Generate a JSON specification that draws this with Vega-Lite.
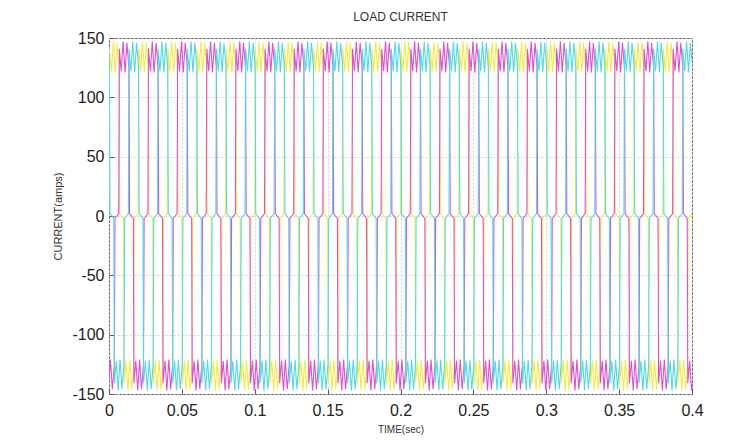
{
"$schema": "https://vega.github.io/schema/vega-lite/v6.json",
"width": 583,
"height": 356,
"autosize": "none",
"padding": {"left": 109, "top": 38, "right": 60, "bottom": 50},
"background": "white",
"title": {"text": "LOAD CURRENT", "font": "Liberation Sans", "fontSize": 12, "fontWeight": "normal", "color": "#333", "offset": 6},
"datasets": {
"a": [
{"t":0,"i":2},{"t":0.0004,"i":141},{"t":0.0017,"i":122},{"t":0.003,"i":147},{"t":0.0043,"i":121},{"t":0.0056,"i":146},{"t":0.007,"i":125},{"t":0.0074,"i":2},{"t":0.01,"i":-2},{"t":0.0104,"i":-141},{"t":0.0117,"i":-122},{"t":0.013,"i":-147},{"t":0.0143,"i":-121},{"t":0.0156,"i":-146},{"t":0.017,"i":-125},{"t":0.0174,"i":-2},
{"t":0.02,"i":2},{"t":0.0204,"i":141},{"t":0.0217,"i":122},{"t":0.023,"i":147},{"t":0.0243,"i":121},{"t":0.0256,"i":146},{"t":0.027,"i":125},{"t":0.0274,"i":2},{"t":0.03,"i":-2},{"t":0.0304,"i":-141},{"t":0.0317,"i":-122},{"t":0.033,"i":-147},{"t":0.0343,"i":-121},{"t":0.0356,"i":-146},{"t":0.037,"i":-125},{"t":0.0374,"i":-2},
{"t":0.04,"i":2},{"t":0.0404,"i":141},{"t":0.0417,"i":122},{"t":0.043,"i":147},{"t":0.0443,"i":121},{"t":0.0456,"i":146},{"t":0.047,"i":125},{"t":0.0474,"i":2},{"t":0.05,"i":-2},{"t":0.0504,"i":-141},{"t":0.0517,"i":-122},{"t":0.053,"i":-147},{"t":0.0543,"i":-121},{"t":0.0556,"i":-146},{"t":0.057,"i":-125},{"t":0.0574,"i":-2},
{"t":0.06,"i":2},{"t":0.0604,"i":141},{"t":0.0617,"i":122},{"t":0.063,"i":147},{"t":0.0643,"i":121},{"t":0.0656,"i":146},{"t":0.067,"i":125},{"t":0.0674,"i":2},{"t":0.07,"i":-2},{"t":0.0704,"i":-141},{"t":0.0717,"i":-122},{"t":0.073,"i":-147},{"t":0.0743,"i":-121},{"t":0.0756,"i":-146},{"t":0.077,"i":-125},{"t":0.0774,"i":-2},
{"t":0.08,"i":2},{"t":0.0804,"i":141},{"t":0.0817,"i":122},{"t":0.083,"i":147},{"t":0.0843,"i":121},{"t":0.0856,"i":146},{"t":0.087,"i":125},{"t":0.0874,"i":2},{"t":0.09,"i":-2},{"t":0.0904,"i":-141},{"t":0.0917,"i":-122},{"t":0.093,"i":-147},{"t":0.0943,"i":-121},{"t":0.0956,"i":-146},{"t":0.097,"i":-125},{"t":0.0974,"i":-2},
{"t":0.1,"i":2},{"t":0.1004,"i":141},{"t":0.1017,"i":122},{"t":0.103,"i":147},{"t":0.1043,"i":121},{"t":0.1056,"i":146},{"t":0.107,"i":125},{"t":0.1074,"i":2},{"t":0.11,"i":-2},{"t":0.1104,"i":-141},{"t":0.1117,"i":-122},{"t":0.113,"i":-147},{"t":0.1143,"i":-121},{"t":0.1156,"i":-146},{"t":0.117,"i":-125},{"t":0.1174,"i":-2},
{"t":0.12,"i":2},{"t":0.1204,"i":141},{"t":0.1217,"i":122},{"t":0.123,"i":147},{"t":0.1243,"i":121},{"t":0.1256,"i":146},{"t":0.127,"i":125},{"t":0.1274,"i":2},{"t":0.13,"i":-2},{"t":0.1304,"i":-141},{"t":0.1317,"i":-122},{"t":0.133,"i":-147},{"t":0.1343,"i":-121},{"t":0.1356,"i":-146},{"t":0.137,"i":-125},{"t":0.1374,"i":-2},
{"t":0.14,"i":2},{"t":0.1404,"i":141},{"t":0.1417,"i":122},{"t":0.143,"i":147},{"t":0.1443,"i":121},{"t":0.1456,"i":146},{"t":0.147,"i":125},{"t":0.1474,"i":2},{"t":0.15,"i":-2},{"t":0.1504,"i":-141},{"t":0.1517,"i":-122},{"t":0.153,"i":-147},{"t":0.1543,"i":-121},{"t":0.1556,"i":-146},{"t":0.157,"i":-125},{"t":0.1574,"i":-2},
{"t":0.16,"i":2},{"t":0.1604,"i":141},{"t":0.1617,"i":122},{"t":0.163,"i":147},{"t":0.1643,"i":121},{"t":0.1656,"i":146},{"t":0.167,"i":125},{"t":0.1674,"i":2},{"t":0.17,"i":-2},{"t":0.1704,"i":-141},{"t":0.1717,"i":-122},{"t":0.173,"i":-147},{"t":0.1743,"i":-121},{"t":0.1756,"i":-146},{"t":0.177,"i":-125},{"t":0.1774,"i":-2},
{"t":0.18,"i":2},{"t":0.1804,"i":141},{"t":0.1817,"i":122},{"t":0.183,"i":147},{"t":0.1843,"i":121},{"t":0.1856,"i":146},{"t":0.187,"i":125},{"t":0.1874,"i":2},{"t":0.19,"i":-2},{"t":0.1904,"i":-141},{"t":0.1917,"i":-122},{"t":0.193,"i":-147},{"t":0.1943,"i":-121},{"t":0.1956,"i":-146},{"t":0.197,"i":-125},{"t":0.1974,"i":-2},
{"t":0.2,"i":2},{"t":0.2004,"i":141},{"t":0.2017,"i":122},{"t":0.203,"i":147},{"t":0.2043,"i":121},{"t":0.2056,"i":146},{"t":0.207,"i":125},{"t":0.2074,"i":2},{"t":0.21,"i":-2},{"t":0.2104,"i":-141},{"t":0.2117,"i":-122},{"t":0.213,"i":-147},{"t":0.2143,"i":-121},{"t":0.2156,"i":-146},{"t":0.217,"i":-125},{"t":0.2174,"i":-2},
{"t":0.22,"i":2},{"t":0.2204,"i":141},{"t":0.2217,"i":122},{"t":0.223,"i":147},{"t":0.2243,"i":121},{"t":0.2256,"i":146},{"t":0.227,"i":125},{"t":0.2274,"i":2},{"t":0.23,"i":-2},{"t":0.2304,"i":-141},{"t":0.2317,"i":-122},{"t":0.233,"i":-147},{"t":0.2343,"i":-121},{"t":0.2356,"i":-146},{"t":0.237,"i":-125},{"t":0.2374,"i":-2},
{"t":0.24,"i":2},{"t":0.2404,"i":141},{"t":0.2417,"i":122},{"t":0.243,"i":147},{"t":0.2443,"i":121},{"t":0.2456,"i":146},{"t":0.247,"i":125},{"t":0.2474,"i":2},{"t":0.25,"i":-2},{"t":0.2504,"i":-141},{"t":0.2517,"i":-122},{"t":0.253,"i":-147},{"t":0.2543,"i":-121},{"t":0.2556,"i":-146},{"t":0.257,"i":-125},{"t":0.2574,"i":-2},
{"t":0.26,"i":2},{"t":0.2604,"i":141},{"t":0.2617,"i":122},{"t":0.263,"i":147},{"t":0.2643,"i":121},{"t":0.2656,"i":146},{"t":0.267,"i":125},{"t":0.2674,"i":2},{"t":0.27,"i":-2},{"t":0.2704,"i":-141},{"t":0.2717,"i":-122},{"t":0.273,"i":-147},{"t":0.2743,"i":-121},{"t":0.2756,"i":-146},{"t":0.277,"i":-125},{"t":0.2774,"i":-2},
{"t":0.28,"i":2},{"t":0.2804,"i":141},{"t":0.2817,"i":122},{"t":0.283,"i":147},{"t":0.2843,"i":121},{"t":0.2856,"i":146},{"t":0.287,"i":125},{"t":0.2874,"i":2},{"t":0.29,"i":-2},{"t":0.2904,"i":-141},{"t":0.2917,"i":-122},{"t":0.293,"i":-147},{"t":0.2943,"i":-121},{"t":0.2956,"i":-146},{"t":0.297,"i":-125},{"t":0.2974,"i":-2},
{"t":0.3,"i":2},{"t":0.3004,"i":141},{"t":0.3017,"i":122},{"t":0.303,"i":147},{"t":0.3043,"i":121},{"t":0.3056,"i":146},{"t":0.307,"i":125},{"t":0.3074,"i":2},{"t":0.31,"i":-2},{"t":0.3104,"i":-141},{"t":0.3117,"i":-122},{"t":0.313,"i":-147},{"t":0.3143,"i":-121},{"t":0.3156,"i":-146},{"t":0.317,"i":-125},{"t":0.3174,"i":-2},
{"t":0.32,"i":2},{"t":0.3204,"i":141},{"t":0.3217,"i":122},{"t":0.323,"i":147},{"t":0.3243,"i":121},{"t":0.3256,"i":146},{"t":0.327,"i":125},{"t":0.3274,"i":2},{"t":0.33,"i":-2},{"t":0.3304,"i":-141},{"t":0.3317,"i":-122},{"t":0.333,"i":-147},{"t":0.3343,"i":-121},{"t":0.3356,"i":-146},{"t":0.337,"i":-125},{"t":0.3374,"i":-2},
{"t":0.34,"i":2},{"t":0.3404,"i":141},{"t":0.3417,"i":122},{"t":0.343,"i":147},{"t":0.3443,"i":121},{"t":0.3456,"i":146},{"t":0.347,"i":125},{"t":0.3474,"i":2},{"t":0.35,"i":-2},{"t":0.3504,"i":-141},{"t":0.3517,"i":-122},{"t":0.353,"i":-147},{"t":0.3543,"i":-121},{"t":0.3556,"i":-146},{"t":0.357,"i":-125},{"t":0.3574,"i":-2},
{"t":0.36,"i":2},{"t":0.3604,"i":141},{"t":0.3617,"i":122},{"t":0.363,"i":147},{"t":0.3643,"i":121},{"t":0.3656,"i":146},{"t":0.367,"i":125},{"t":0.3674,"i":2},{"t":0.37,"i":-2},{"t":0.3704,"i":-141},{"t":0.3717,"i":-122},{"t":0.373,"i":-147},{"t":0.3743,"i":-121},{"t":0.3756,"i":-146},{"t":0.377,"i":-125},{"t":0.3774,"i":-2},
{"t":0.38,"i":2},{"t":0.3804,"i":141},{"t":0.3817,"i":122},{"t":0.383,"i":147},{"t":0.3843,"i":121},{"t":0.3856,"i":146},{"t":0.387,"i":125},{"t":0.3874,"i":2},{"t":0.39,"i":-2},{"t":0.3904,"i":-141},{"t":0.3917,"i":-122},{"t":0.393,"i":-147},{"t":0.3943,"i":-121},{"t":0.3956,"i":-146},{"t":0.397,"i":-125},{"t":0.3974,"i":-2},
{"t":0.4,"i":2}
],
"b": [
{"t":0,"i":-140},{"t":0.001,"i":-121},{"t":0.0023,"i":-146},{"t":0.0037,"i":-125},{"t":0.0041,"i":-2},
{"t":0.0067,"i":2},{"t":0.0071,"i":141},{"t":0.0084,"i":122},{"t":0.0097,"i":147},{"t":0.011,"i":121},{"t":0.0123,"i":146},{"t":0.0137,"i":125},{"t":0.0141,"i":2},{"t":0.0167,"i":-2},{"t":0.0171,"i":-141},{"t":0.0184,"i":-122},{"t":0.0197,"i":-147},{"t":0.021,"i":-121},{"t":0.0223,"i":-146},{"t":0.0237,"i":-125},{"t":0.0241,"i":-2},
{"t":0.0267,"i":2},{"t":0.0271,"i":141},{"t":0.0284,"i":122},{"t":0.0297,"i":147},{"t":0.031,"i":121},{"t":0.0323,"i":146},{"t":0.0337,"i":125},{"t":0.0341,"i":2},{"t":0.0367,"i":-2},{"t":0.0371,"i":-141},{"t":0.0384,"i":-122},{"t":0.0397,"i":-147},{"t":0.041,"i":-121},{"t":0.0423,"i":-146},{"t":0.0437,"i":-125},{"t":0.0441,"i":-2},
{"t":0.0467,"i":2},{"t":0.0471,"i":141},{"t":0.0484,"i":122},{"t":0.0497,"i":147},{"t":0.051,"i":121},{"t":0.0523,"i":146},{"t":0.0537,"i":125},{"t":0.0541,"i":2},{"t":0.0567,"i":-2},{"t":0.0571,"i":-141},{"t":0.0584,"i":-122},{"t":0.0597,"i":-147},{"t":0.061,"i":-121},{"t":0.0623,"i":-146},{"t":0.0637,"i":-125},{"t":0.0641,"i":-2},
{"t":0.0667,"i":2},{"t":0.0671,"i":141},{"t":0.0684,"i":122},{"t":0.0697,"i":147},{"t":0.071,"i":121},{"t":0.0723,"i":146},{"t":0.0737,"i":125},{"t":0.0741,"i":2},{"t":0.0767,"i":-2},{"t":0.0771,"i":-141},{"t":0.0784,"i":-122},{"t":0.0797,"i":-147},{"t":0.081,"i":-121},{"t":0.0823,"i":-146},{"t":0.0837,"i":-125},{"t":0.0841,"i":-2},
{"t":0.0867,"i":2},{"t":0.0871,"i":141},{"t":0.0884,"i":122},{"t":0.0897,"i":147},{"t":0.091,"i":121},{"t":0.0923,"i":146},{"t":0.0937,"i":125},{"t":0.0941,"i":2},{"t":0.0967,"i":-2},{"t":0.0971,"i":-141},{"t":0.0984,"i":-122},{"t":0.0997,"i":-147},{"t":0.101,"i":-121},{"t":0.1023,"i":-146},{"t":0.1037,"i":-125},{"t":0.1041,"i":-2},
{"t":0.1067,"i":2},{"t":0.1071,"i":141},{"t":0.1084,"i":122},{"t":0.1097,"i":147},{"t":0.111,"i":121},{"t":0.1123,"i":146},{"t":0.1137,"i":125},{"t":0.1141,"i":2},{"t":0.1167,"i":-2},{"t":0.1171,"i":-141},{"t":0.1184,"i":-122},{"t":0.1197,"i":-147},{"t":0.121,"i":-121},{"t":0.1223,"i":-146},{"t":0.1237,"i":-125},{"t":0.1241,"i":-2},
{"t":0.1267,"i":2},{"t":0.1271,"i":141},{"t":0.1284,"i":122},{"t":0.1297,"i":147},{"t":0.131,"i":121},{"t":0.1323,"i":146},{"t":0.1337,"i":125},{"t":0.1341,"i":2},{"t":0.1367,"i":-2},{"t":0.1371,"i":-141},{"t":0.1384,"i":-122},{"t":0.1397,"i":-147},{"t":0.141,"i":-121},{"t":0.1423,"i":-146},{"t":0.1437,"i":-125},{"t":0.1441,"i":-2},
{"t":0.1467,"i":2},{"t":0.1471,"i":141},{"t":0.1484,"i":122},{"t":0.1497,"i":147},{"t":0.151,"i":121},{"t":0.1523,"i":146},{"t":0.1537,"i":125},{"t":0.1541,"i":2},{"t":0.1567,"i":-2},{"t":0.1571,"i":-141},{"t":0.1584,"i":-122},{"t":0.1597,"i":-147},{"t":0.161,"i":-121},{"t":0.1623,"i":-146},{"t":0.1637,"i":-125},{"t":0.1641,"i":-2},
{"t":0.1667,"i":2},{"t":0.1671,"i":141},{"t":0.1684,"i":122},{"t":0.1697,"i":147},{"t":0.171,"i":121},{"t":0.1723,"i":146},{"t":0.1737,"i":125},{"t":0.1741,"i":2},{"t":0.1767,"i":-2},{"t":0.1771,"i":-141},{"t":0.1784,"i":-122},{"t":0.1797,"i":-147},{"t":0.181,"i":-121},{"t":0.1823,"i":-146},{"t":0.1837,"i":-125},{"t":0.1841,"i":-2},
{"t":0.1867,"i":2},{"t":0.1871,"i":141},{"t":0.1884,"i":122},{"t":0.1897,"i":147},{"t":0.191,"i":121},{"t":0.1923,"i":146},{"t":0.1937,"i":125},{"t":0.1941,"i":2},{"t":0.1967,"i":-2},{"t":0.1971,"i":-141},{"t":0.1984,"i":-122},{"t":0.1997,"i":-147},{"t":0.201,"i":-121},{"t":0.2023,"i":-146},{"t":0.2037,"i":-125},{"t":0.2041,"i":-2},
{"t":0.2067,"i":2},{"t":0.2071,"i":141},{"t":0.2084,"i":122},{"t":0.2097,"i":147},{"t":0.211,"i":121},{"t":0.2123,"i":146},{"t":0.2137,"i":125},{"t":0.2141,"i":2},{"t":0.2167,"i":-2},{"t":0.2171,"i":-141},{"t":0.2184,"i":-122},{"t":0.2197,"i":-147},{"t":0.221,"i":-121},{"t":0.2223,"i":-146},{"t":0.2237,"i":-125},{"t":0.2241,"i":-2},
{"t":0.2267,"i":2},{"t":0.2271,"i":141},{"t":0.2284,"i":122},{"t":0.2297,"i":147},{"t":0.231,"i":121},{"t":0.2323,"i":146},{"t":0.2337,"i":125},{"t":0.2341,"i":2},{"t":0.2367,"i":-2},{"t":0.2371,"i":-141},{"t":0.2384,"i":-122},{"t":0.2397,"i":-147},{"t":0.241,"i":-121},{"t":0.2423,"i":-146},{"t":0.2437,"i":-125},{"t":0.2441,"i":-2},
{"t":0.2467,"i":2},{"t":0.2471,"i":141},{"t":0.2484,"i":122},{"t":0.2497,"i":147},{"t":0.251,"i":121},{"t":0.2523,"i":146},{"t":0.2537,"i":125},{"t":0.2541,"i":2},{"t":0.2567,"i":-2},{"t":0.2571,"i":-141},{"t":0.2584,"i":-122},{"t":0.2597,"i":-147},{"t":0.261,"i":-121},{"t":0.2623,"i":-146},{"t":0.2637,"i":-125},{"t":0.2641,"i":-2},
{"t":0.2667,"i":2},{"t":0.2671,"i":141},{"t":0.2684,"i":122},{"t":0.2697,"i":147},{"t":0.271,"i":121},{"t":0.2723,"i":146},{"t":0.2737,"i":125},{"t":0.2741,"i":2},{"t":0.2767,"i":-2},{"t":0.2771,"i":-141},{"t":0.2784,"i":-122},{"t":0.2797,"i":-147},{"t":0.281,"i":-121},{"t":0.2823,"i":-146},{"t":0.2837,"i":-125},{"t":0.2841,"i":-2},
{"t":0.2867,"i":2},{"t":0.2871,"i":141},{"t":0.2884,"i":122},{"t":0.2897,"i":147},{"t":0.291,"i":121},{"t":0.2923,"i":146},{"t":0.2937,"i":125},{"t":0.2941,"i":2},{"t":0.2967,"i":-2},{"t":0.2971,"i":-141},{"t":0.2984,"i":-122},{"t":0.2997,"i":-147},{"t":0.301,"i":-121},{"t":0.3023,"i":-146},{"t":0.3037,"i":-125},{"t":0.3041,"i":-2},
{"t":0.3067,"i":2},{"t":0.3071,"i":141},{"t":0.3084,"i":122},{"t":0.3097,"i":147},{"t":0.311,"i":121},{"t":0.3123,"i":146},{"t":0.3137,"i":125},{"t":0.3141,"i":2},{"t":0.3167,"i":-2},{"t":0.3171,"i":-141},{"t":0.3184,"i":-122},{"t":0.3197,"i":-147},{"t":0.321,"i":-121},{"t":0.3223,"i":-146},{"t":0.3237,"i":-125},{"t":0.3241,"i":-2},
{"t":0.3267,"i":2},{"t":0.3271,"i":141},{"t":0.3284,"i":122},{"t":0.3297,"i":147},{"t":0.331,"i":121},{"t":0.3323,"i":146},{"t":0.3337,"i":125},{"t":0.3341,"i":2},{"t":0.3367,"i":-2},{"t":0.3371,"i":-141},{"t":0.3384,"i":-122},{"t":0.3397,"i":-147},{"t":0.341,"i":-121},{"t":0.3423,"i":-146},{"t":0.3437,"i":-125},{"t":0.3441,"i":-2},
{"t":0.3467,"i":2},{"t":0.3471,"i":141},{"t":0.3484,"i":122},{"t":0.3497,"i":147},{"t":0.351,"i":121},{"t":0.3523,"i":146},{"t":0.3537,"i":125},{"t":0.3541,"i":2},{"t":0.3567,"i":-2},{"t":0.3571,"i":-141},{"t":0.3584,"i":-122},{"t":0.3597,"i":-147},{"t":0.361,"i":-121},{"t":0.3623,"i":-146},{"t":0.3637,"i":-125},{"t":0.3641,"i":-2},
{"t":0.3667,"i":2},{"t":0.3671,"i":141},{"t":0.3684,"i":122},{"t":0.3697,"i":147},{"t":0.371,"i":121},{"t":0.3723,"i":146},{"t":0.3737,"i":125},{"t":0.3741,"i":2},{"t":0.3767,"i":-2},{"t":0.3771,"i":-141},{"t":0.3784,"i":-122},{"t":0.3797,"i":-147},{"t":0.381,"i":-121},{"t":0.3823,"i":-146},{"t":0.3837,"i":-125},{"t":0.3841,"i":-2},
{"t":0.3867,"i":2},{"t":0.3871,"i":141},{"t":0.3884,"i":122},{"t":0.3897,"i":147},{"t":0.391,"i":121},{"t":0.3923,"i":146},{"t":0.3937,"i":125},{"t":0.3941,"i":2},{"t":0.3967,"i":-2},{"t":0.3971,"i":-141},{"t":0.3984,"i":-122},{"t":0.3997,"i":-147},{"t":0.4,"i":-140}
],
"c": [
{"t":0,"i":138},{"t":0.0003,"i":125},{"t":0.0007,"i":2},{"t":0.0033,"i":-2},{"t":0.0037,"i":-141},{"t":0.005,"i":-122},{"t":0.0063,"i":-147},{"t":0.0076,"i":-121},{"t":0.0089,"i":-146},{"t":0.0103,"i":-125},{"t":0.0107,"i":-2},
{"t":0.0133,"i":2},{"t":0.0137,"i":141},{"t":0.015,"i":122},{"t":0.0163,"i":147},{"t":0.0176,"i":121},{"t":0.0189,"i":146},{"t":0.0203,"i":125},{"t":0.0207,"i":2},{"t":0.0233,"i":-2},{"t":0.0237,"i":-141},{"t":0.025,"i":-122},{"t":0.0263,"i":-147},{"t":0.0276,"i":-121},{"t":0.0289,"i":-146},{"t":0.0303,"i":-125},{"t":0.0307,"i":-2},
{"t":0.0333,"i":2},{"t":0.0337,"i":141},{"t":0.035,"i":122},{"t":0.0363,"i":147},{"t":0.0376,"i":121},{"t":0.0389,"i":146},{"t":0.0403,"i":125},{"t":0.0407,"i":2},{"t":0.0433,"i":-2},{"t":0.0437,"i":-141},{"t":0.045,"i":-122},{"t":0.0463,"i":-147},{"t":0.0476,"i":-121},{"t":0.0489,"i":-146},{"t":0.0503,"i":-125},{"t":0.0507,"i":-2},
{"t":0.0533,"i":2},{"t":0.0537,"i":141},{"t":0.055,"i":122},{"t":0.0563,"i":147},{"t":0.0576,"i":121},{"t":0.0589,"i":146},{"t":0.0603,"i":125},{"t":0.0607,"i":2},{"t":0.0633,"i":-2},{"t":0.0637,"i":-141},{"t":0.065,"i":-122},{"t":0.0663,"i":-147},{"t":0.0676,"i":-121},{"t":0.0689,"i":-146},{"t":0.0703,"i":-125},{"t":0.0707,"i":-2},
{"t":0.0733,"i":2},{"t":0.0737,"i":141},{"t":0.075,"i":122},{"t":0.0763,"i":147},{"t":0.0776,"i":121},{"t":0.0789,"i":146},{"t":0.0803,"i":125},{"t":0.0807,"i":2},{"t":0.0833,"i":-2},{"t":0.0837,"i":-141},{"t":0.085,"i":-122},{"t":0.0863,"i":-147},{"t":0.0876,"i":-121},{"t":0.0889,"i":-146},{"t":0.0903,"i":-125},{"t":0.0907,"i":-2},
{"t":0.0933,"i":2},{"t":0.0937,"i":141},{"t":0.095,"i":122},{"t":0.0963,"i":147},{"t":0.0976,"i":121},{"t":0.0989,"i":146},{"t":0.1003,"i":125},{"t":0.1007,"i":2},{"t":0.1033,"i":-2},{"t":0.1037,"i":-141},{"t":0.105,"i":-122},{"t":0.1063,"i":-147},{"t":0.1076,"i":-121},{"t":0.1089,"i":-146},{"t":0.1103,"i":-125},{"t":0.1107,"i":-2},
{"t":0.1133,"i":2},{"t":0.1137,"i":141},{"t":0.115,"i":122},{"t":0.1163,"i":147},{"t":0.1176,"i":121},{"t":0.1189,"i":146},{"t":0.1203,"i":125},{"t":0.1207,"i":2},{"t":0.1233,"i":-2},{"t":0.1237,"i":-141},{"t":0.125,"i":-122},{"t":0.1263,"i":-147},{"t":0.1276,"i":-121},{"t":0.1289,"i":-146},{"t":0.1303,"i":-125},{"t":0.1307,"i":-2},
{"t":0.1333,"i":2},{"t":0.1337,"i":141},{"t":0.135,"i":122},{"t":0.1363,"i":147},{"t":0.1376,"i":121},{"t":0.1389,"i":146},{"t":0.1403,"i":125},{"t":0.1407,"i":2},{"t":0.1433,"i":-2},{"t":0.1437,"i":-141},{"t":0.145,"i":-122},{"t":0.1463,"i":-147},{"t":0.1476,"i":-121},{"t":0.1489,"i":-146},{"t":0.1503,"i":-125},{"t":0.1507,"i":-2},
{"t":0.1533,"i":2},{"t":0.1537,"i":141},{"t":0.155,"i":122},{"t":0.1563,"i":147},{"t":0.1576,"i":121},{"t":0.1589,"i":146},{"t":0.1603,"i":125},{"t":0.1607,"i":2},{"t":0.1633,"i":-2},{"t":0.1637,"i":-141},{"t":0.165,"i":-122},{"t":0.1663,"i":-147},{"t":0.1676,"i":-121},{"t":0.1689,"i":-146},{"t":0.1703,"i":-125},{"t":0.1707,"i":-2},
{"t":0.1733,"i":2},{"t":0.1737,"i":141},{"t":0.175,"i":122},{"t":0.1763,"i":147},{"t":0.1776,"i":121},{"t":0.1789,"i":146},{"t":0.1803,"i":125},{"t":0.1807,"i":2},{"t":0.1833,"i":-2},{"t":0.1837,"i":-141},{"t":0.185,"i":-122},{"t":0.1863,"i":-147},{"t":0.1876,"i":-121},{"t":0.1889,"i":-146},{"t":0.1903,"i":-125},{"t":0.1907,"i":-2},
{"t":0.1933,"i":2},{"t":0.1937,"i":141},{"t":0.195,"i":122},{"t":0.1963,"i":147},{"t":0.1976,"i":121},{"t":0.1989,"i":146},{"t":0.2003,"i":125},{"t":0.2007,"i":2},{"t":0.2033,"i":-2},{"t":0.2037,"i":-141},{"t":0.205,"i":-122},{"t":0.2063,"i":-147},{"t":0.2076,"i":-121},{"t":0.2089,"i":-146},{"t":0.2103,"i":-125},{"t":0.2107,"i":-2},
{"t":0.2133,"i":2},{"t":0.2137,"i":141},{"t":0.215,"i":122},{"t":0.2163,"i":147},{"t":0.2176,"i":121},{"t":0.2189,"i":146},{"t":0.2203,"i":125},{"t":0.2207,"i":2},{"t":0.2233,"i":-2},{"t":0.2237,"i":-141},{"t":0.225,"i":-122},{"t":0.2263,"i":-147},{"t":0.2276,"i":-121},{"t":0.2289,"i":-146},{"t":0.2303,"i":-125},{"t":0.2307,"i":-2},
{"t":0.2333,"i":2},{"t":0.2337,"i":141},{"t":0.235,"i":122},{"t":0.2363,"i":147},{"t":0.2376,"i":121},{"t":0.2389,"i":146},{"t":0.2403,"i":125},{"t":0.2407,"i":2},{"t":0.2433,"i":-2},{"t":0.2437,"i":-141},{"t":0.245,"i":-122},{"t":0.2463,"i":-147},{"t":0.2476,"i":-121},{"t":0.2489,"i":-146},{"t":0.2503,"i":-125},{"t":0.2507,"i":-2},
{"t":0.2533,"i":2},{"t":0.2537,"i":141},{"t":0.255,"i":122},{"t":0.2563,"i":147},{"t":0.2576,"i":121},{"t":0.2589,"i":146},{"t":0.2603,"i":125},{"t":0.2607,"i":2},{"t":0.2633,"i":-2},{"t":0.2637,"i":-141},{"t":0.265,"i":-122},{"t":0.2663,"i":-147},{"t":0.2676,"i":-121},{"t":0.2689,"i":-146},{"t":0.2703,"i":-125},{"t":0.2707,"i":-2},
{"t":0.2733,"i":2},{"t":0.2737,"i":141},{"t":0.275,"i":122},{"t":0.2763,"i":147},{"t":0.2776,"i":121},{"t":0.2789,"i":146},{"t":0.2803,"i":125},{"t":0.2807,"i":2},{"t":0.2833,"i":-2},{"t":0.2837,"i":-141},{"t":0.285,"i":-122},{"t":0.2863,"i":-147},{"t":0.2876,"i":-121},{"t":0.2889,"i":-146},{"t":0.2903,"i":-125},{"t":0.2907,"i":-2},
{"t":0.2933,"i":2},{"t":0.2937,"i":141},{"t":0.295,"i":122},{"t":0.2963,"i":147},{"t":0.2976,"i":121},{"t":0.2989,"i":146},{"t":0.3003,"i":125},{"t":0.3007,"i":2},{"t":0.3033,"i":-2},{"t":0.3037,"i":-141},{"t":0.305,"i":-122},{"t":0.3063,"i":-147},{"t":0.3076,"i":-121},{"t":0.3089,"i":-146},{"t":0.3103,"i":-125},{"t":0.3107,"i":-2},
{"t":0.3133,"i":2},{"t":0.3137,"i":141},{"t":0.315,"i":122},{"t":0.3163,"i":147},{"t":0.3176,"i":121},{"t":0.3189,"i":146},{"t":0.3203,"i":125},{"t":0.3207,"i":2},{"t":0.3233,"i":-2},{"t":0.3237,"i":-141},{"t":0.325,"i":-122},{"t":0.3263,"i":-147},{"t":0.3276,"i":-121},{"t":0.3289,"i":-146},{"t":0.3303,"i":-125},{"t":0.3307,"i":-2},
{"t":0.3333,"i":2},{"t":0.3337,"i":141},{"t":0.335,"i":122},{"t":0.3363,"i":147},{"t":0.3376,"i":121},{"t":0.3389,"i":146},{"t":0.3403,"i":125},{"t":0.3407,"i":2},{"t":0.3433,"i":-2},{"t":0.3437,"i":-141},{"t":0.345,"i":-122},{"t":0.3463,"i":-147},{"t":0.3476,"i":-121},{"t":0.3489,"i":-146},{"t":0.3503,"i":-125},{"t":0.3507,"i":-2},
{"t":0.3533,"i":2},{"t":0.3537,"i":141},{"t":0.355,"i":122},{"t":0.3563,"i":147},{"t":0.3576,"i":121},{"t":0.3589,"i":146},{"t":0.3603,"i":125},{"t":0.3607,"i":2},{"t":0.3633,"i":-2},{"t":0.3637,"i":-141},{"t":0.365,"i":-122},{"t":0.3663,"i":-147},{"t":0.3676,"i":-121},{"t":0.3689,"i":-146},{"t":0.3703,"i":-125},{"t":0.3707,"i":-2},
{"t":0.3733,"i":2},{"t":0.3737,"i":141},{"t":0.375,"i":122},{"t":0.3763,"i":147},{"t":0.3776,"i":121},{"t":0.3789,"i":146},{"t":0.3803,"i":125},{"t":0.3807,"i":2},{"t":0.3833,"i":-2},{"t":0.3837,"i":-141},{"t":0.385,"i":-122},{"t":0.3863,"i":-147},{"t":0.3876,"i":-121},{"t":0.3889,"i":-146},{"t":0.3903,"i":-125},{"t":0.3907,"i":-2},
{"t":0.3933,"i":2},{"t":0.3937,"i":141},{"t":0.395,"i":122},{"t":0.3963,"i":147},{"t":0.3976,"i":121},{"t":0.3989,"i":146},{"t":0.4,"i":130}
]
},
"encoding": {
"x": {"field": "t", "type": "quantitative",
"scale": {"domain": [0, 0.4], "nice": false, "zero": false},
"axis": {"title": "TIME(sec)", "values": [0, 0.05, 0.1, 0.15, 0.2, 0.25, 0.3, 0.35, 0.4], "labelExpr": "'' + datum.value", "labelFontSize": 16, "labelPadding": 13, "tickSize": -5, "titleFontSize": 10, "titlePadding": 6, "labelFlush": false, "labelOverlap": false}},
"y": {"field": "i", "type": "quantitative",
"scale": {"domain": [-150, 150], "nice": false},
"axis": {"title": "CURRENT(amps)", "values": [-150, -100, -50, 0, 50, 100, 150], "labelExpr": "'' + datum.value", "labelFontSize": 16, "labelPadding": 10, "tickSize": -5, "titleFontSize": 11, "titlePadding": 8, "labelFlush": false, "labelOverlap": false}}
},
"layer": [
{"data": {"name": "a"}, "mark": {"type": "line", "color": "#f0ea50", "strokeWidth": 1.1, "clip": true}},
{"data": {"name": "b"}, "mark": {"type": "line", "color": "#db52cf", "strokeWidth": 1.1, "clip": true}},
{"data": {"name": "c"}, "mark": {"type": "line", "color": "#55d8e4", "strokeWidth": 1.1, "clip": true}}
],
"config": {
"view": {"stroke": "#555", "strokeWidth": 1},
"axis": {"labelFont": "Liberation Sans", "titleFont": "Liberation Sans", "labelColor": "#222", "titleColor": "#333", "titleFontWeight": "normal", "domain": false, "tickColor": "#555", "grid": true, "gridColor": "#d4d4d4", "gridDash": [2, 2]}
}
}
